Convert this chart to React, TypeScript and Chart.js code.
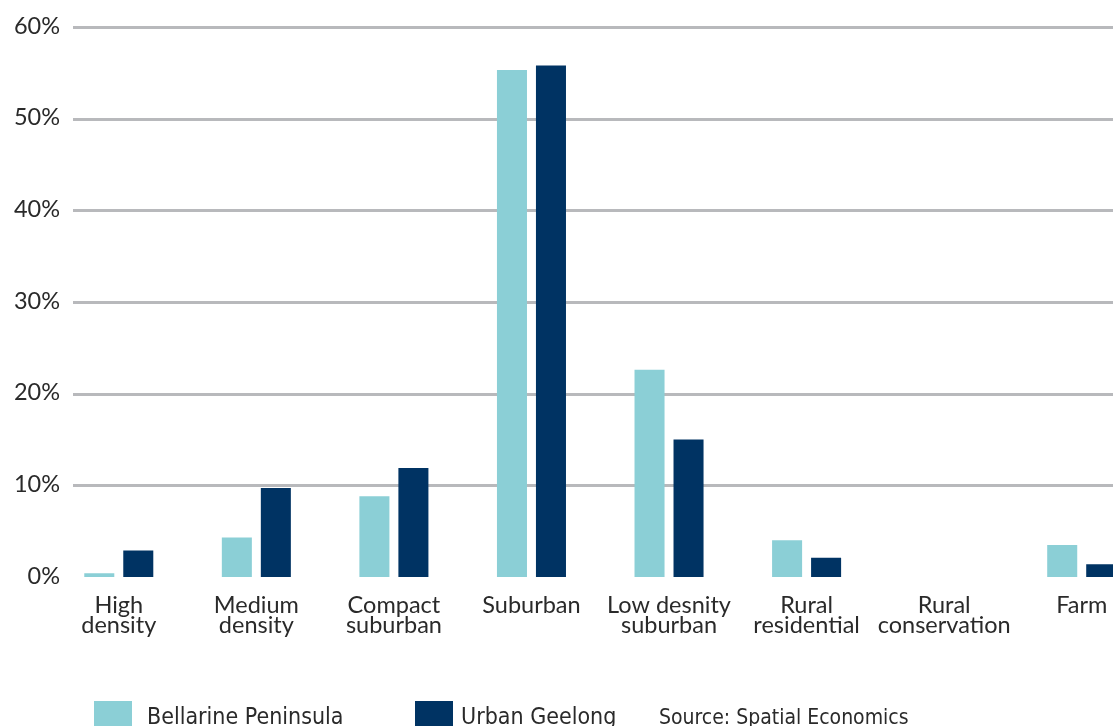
import React, { useEffect, useRef } from "react";
import { Chart, registerables } from "chart.js";

Chart.register(...registerables);

const categories: string[][] = [
  ["High", "density"],
  ["Medium", "density"],
  ["Compact", "suburban"],
  ["Suburban"],
  ["Low desnity", "suburban"],
  ["Rural", "residential"],
  ["Rural", "conservation"],
  ["Farm"],
];

const seriesNames = ["Bellarine Peninsula", "Urban Geelong"];
const bellarine = [0.4, 4.3, 8.8, 55.3, 22.6, 4.0, 0, 3.5];
const urbanGeelong = [2.9, 9.7, 11.9, 55.8, 15.0, 2.1, 0, 1.4];
const yTicks = [0, 10, 20, 30, 40, 50, 60];
const sourceText = "Source: Spatial Economics";

const COLORS = ["#8bcfd6", "#003363"];
const GRID = "#b8b9bc";
const TEXT = "#2a2a2a";
const FONT = "Lato, 'Noto Sans', sans-serif";
const LEGEND_FONT = "'Liberation Sans Narrow', 'DejaVu Sans Condensed', sans-serif";

const CW = 1160;
const CH = 760;

export default function App() {
  const ref = useRef<HTMLCanvasElement | null>(null);

  useEffect(() => {
    if (!ref.current) return;

    const gridPlugin = {
      id: "customGrid",
      beforeDatasetsDraw(chart: any) {
        const { ctx } = chart;
        const y = chart.scales.y;
        ctx.save();
        ctx.strokeStyle = GRID;
        ctx.lineWidth = 3;
        yTicks.forEach((v) => {
          if (v === 0) return;
          const py = Math.round(y.getPixelForValue(v)) + 0.5;
          ctx.beginPath();
          ctx.moveTo(73, py);
          ctx.lineTo(chart.width, py);
          ctx.stroke();
        });
        // y tick labels
        ctx.fillStyle = TEXT;
        ctx.font = `23.5px ${FONT}`;
        ctx.textAlign = "right";
        ctx.textBaseline = "middle";
        yTicks.forEach((v) => {
          const py = y.getPixelForValue(v) - 1;
          ctx.fillText(`${v}%`, 60, py);
        });
        ctx.restore();
      },
    };

    const legendPlugin = {
      id: "customLegend",
      afterDraw(chart: any) {
        const { ctx } = chart;
        ctx.save();
        const boxX = [94, 415];
        const textX = [147, 461];
        const boxY = 701;
        ctx.font = `23px ${LEGEND_FONT}`;
        ctx.textBaseline = "alphabetic";
        ctx.textAlign = "left";
        chart.data.datasets.forEach((ds: any, i: number) => {
          ctx.fillStyle = ds.backgroundColor;
          ctx.fillRect(boxX[i], boxY, 38, 38);
          ctx.fillStyle = TEXT;
          ctx.fillText(ds.label, textX[i], 724);
        });
        ctx.font = `21px ${LEGEND_FONT}`;
        ctx.fillText(sourceText, 659, 724);
        ctx.restore();
      },
    };

    const chart = new Chart(ref.current, {
      type: "bar",
      data: {
        labels: categories,
        datasets: [
          {
            label: seriesNames[0],
            data: bellarine,
            backgroundColor: COLORS[0],
            categoryPercentage: 0.567,
            barPercentage: 0.77,
          },
          {
            label: seriesNames[1],
            data: urbanGeelong,
            backgroundColor: COLORS[1],
            categoryPercentage: 0.567,
            barPercentage: 0.77,
          },
        ],
      },
      options: {
        responsive: false,
        animation: false,
        devicePixelRatio: 1,
        layout: { padding: { top: 27, right: 9.5, bottom: 0, left: 0 } },
        plugins: {
          legend: { display: false },
          tooltip: { enabled: false },
        },
        scales: {
          x: {
            grid: { display: false, drawTicks: false },
            border: { display: false },
            ticks: {
              color: TEXT,
              font: { family: FONT, size: 23.5, lineHeight: 0.85 },
              padding: 18,
              maxRotation: 0,
              autoSkip: false,
            },
            afterFit(scale: any) {
              scale.height = CH - 577;
            },
          },
          y: {
            min: 0,
            max: 60,
            grid: { display: false, drawTicks: false },
            border: { display: false },
            ticks: {
              display: false,
              stepSize: 10,
            },
            afterFit(scale: any) {
              scale.width = 50;
            },
          },
        },
      },
      plugins: [gridPlugin, legendPlugin],
    });

    return () => chart.destroy();
  }, []);

  return (
    <div
      style={{
        position: "fixed",
        left: 0,
        top: 0,
        width: 1113,
        height: 726,
        overflow: "hidden",
        background: "#fff",
      }}
    >
      <canvas
        ref={ref}
        width={CW}
        height={CH}
        style={{ display: "block", width: CW, height: CH }}
      />
    </div>
  );
}
